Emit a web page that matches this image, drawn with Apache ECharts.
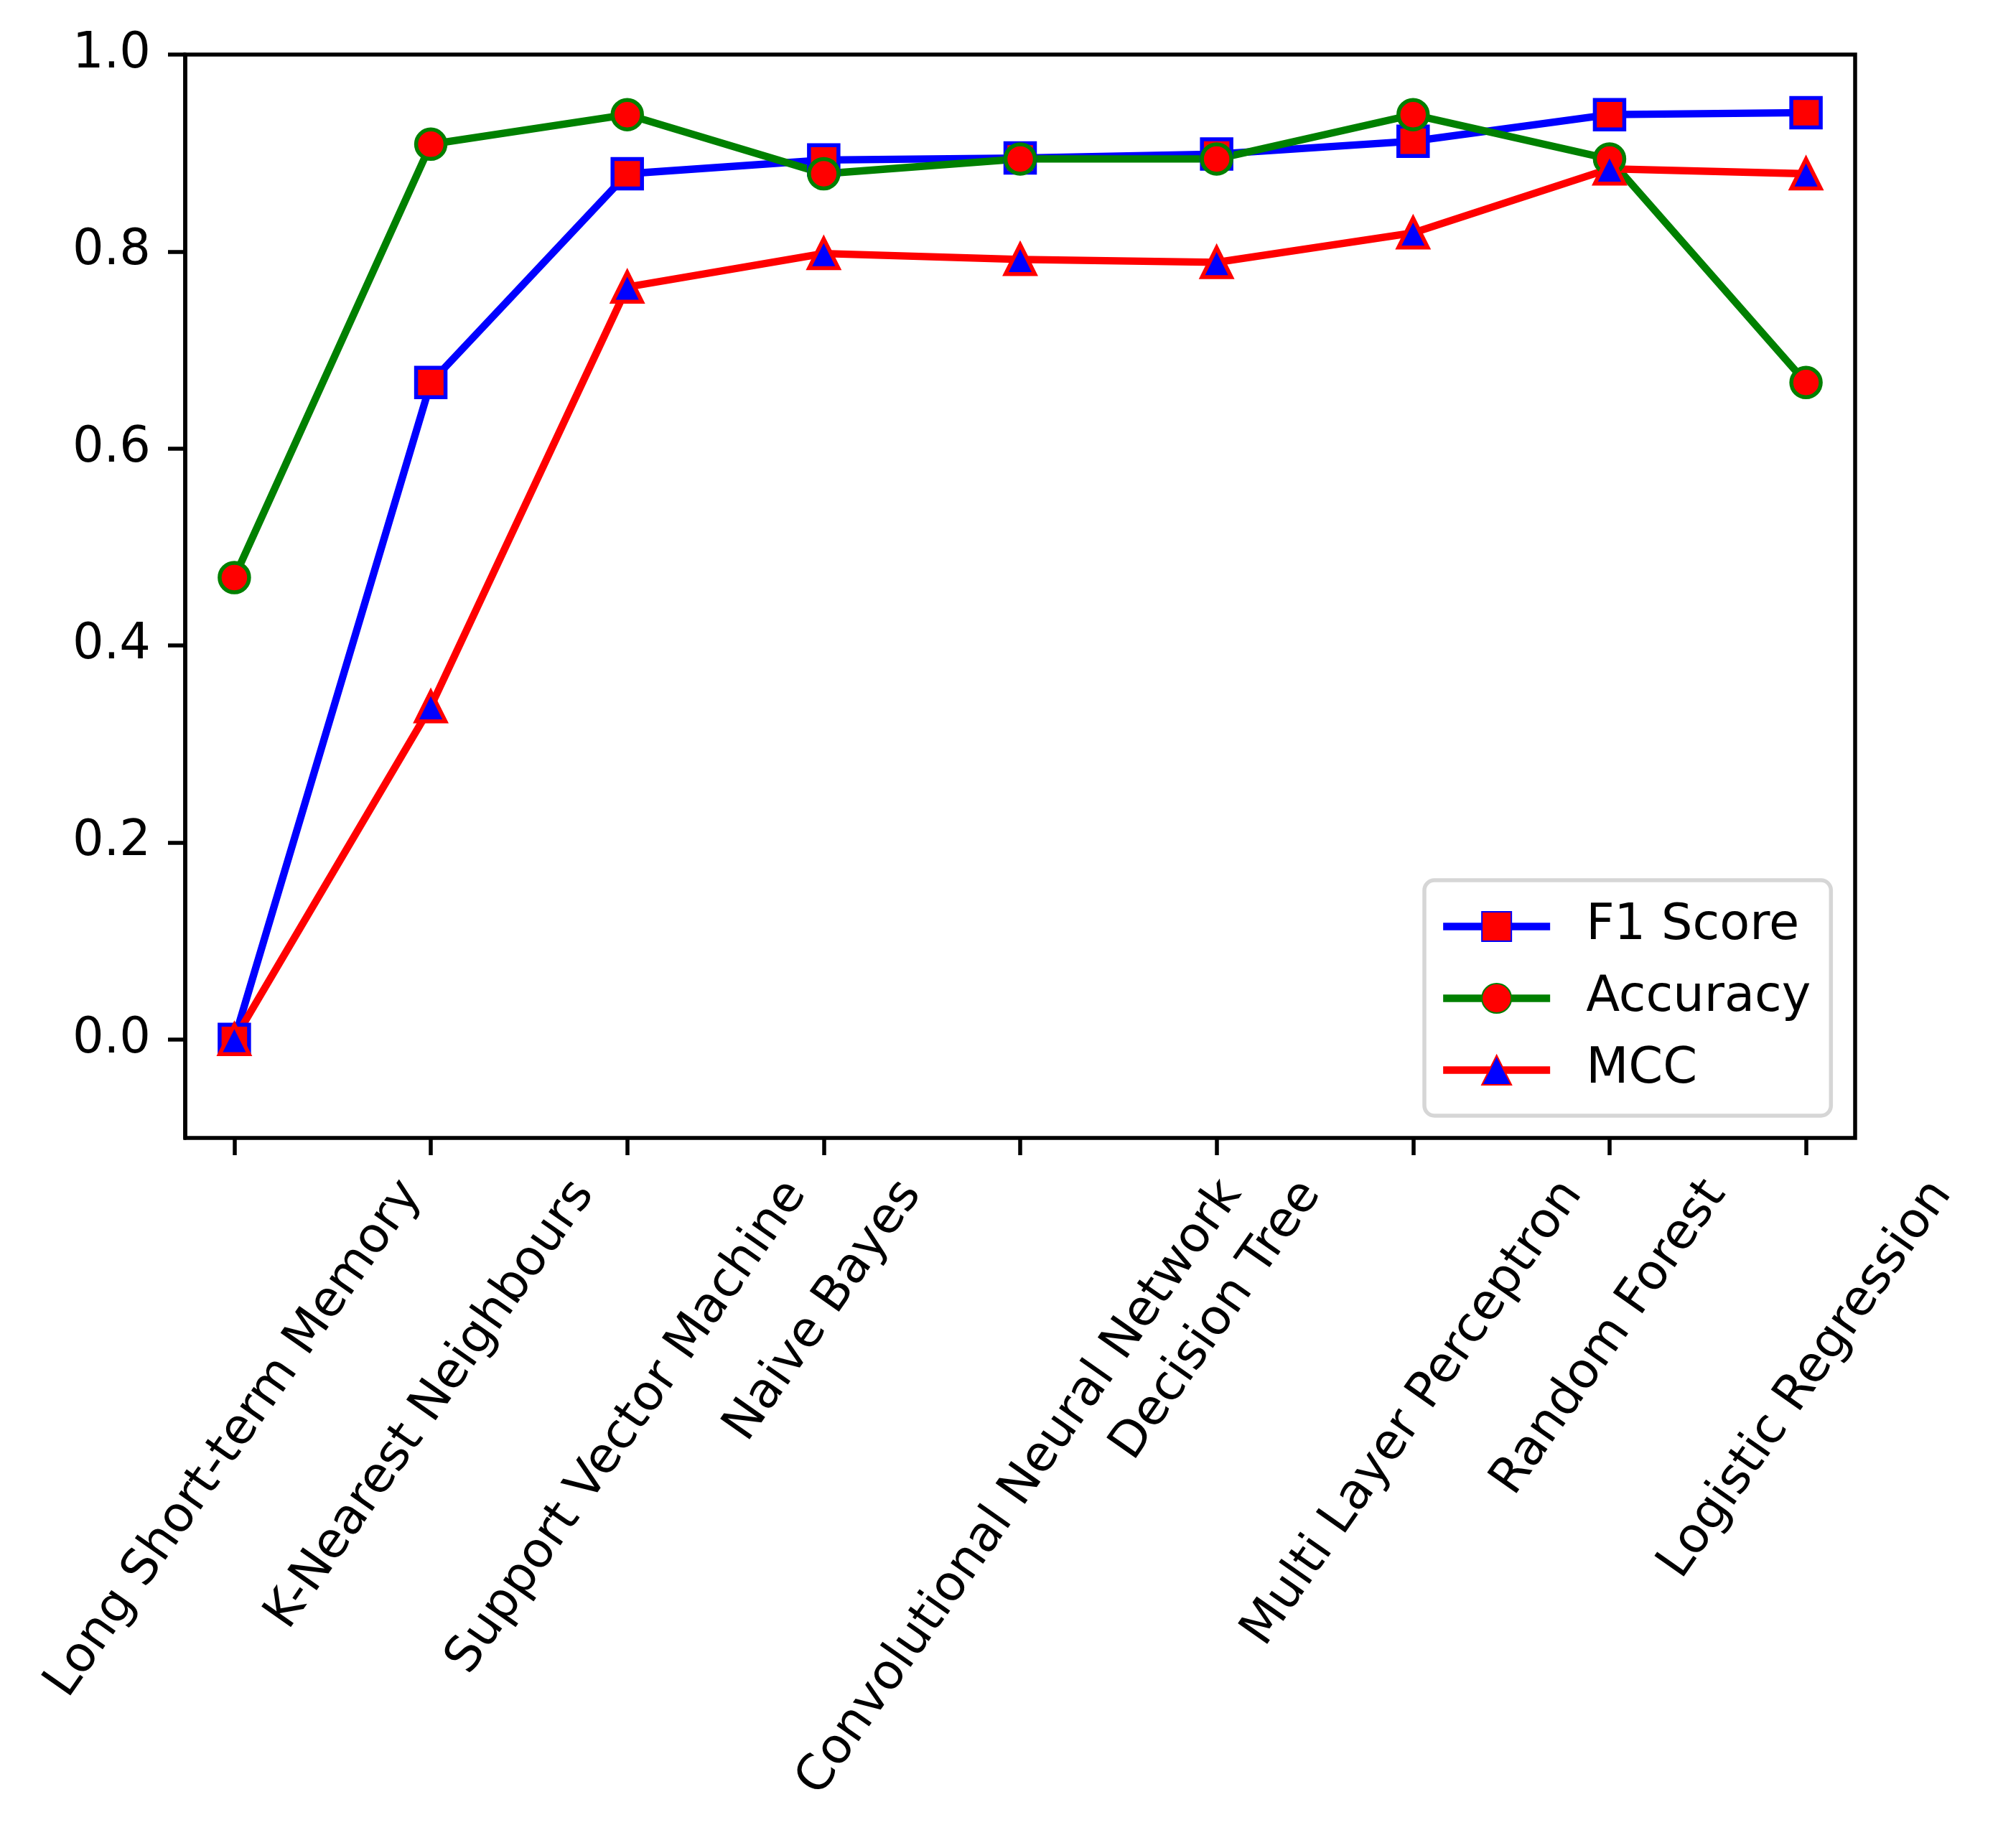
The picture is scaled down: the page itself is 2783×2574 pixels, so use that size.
<!DOCTYPE html>
<html>
<head>
<meta charset="utf-8">
<script src="https://cdn.jsdelivr.net/npm/echarts@6/dist/echarts.min.js"></script>
<style>
  html, body { margin: 0; padding: 0; background: #fff; }
  #chart { width: 2783px; height: 2574px; }
</style>
</head>
<body>
<div id="chart"></div>
<script>
const categories = [
  'Long Short-term Memory',
  'K-Nearest Neighbours',
  'Support Vector Machine',
  'Naive Bayes',
  'Convolutional Neural Network',
  'Decision Tree',
  'Multi Layer Perceptron',
  'Random Forest',
  'Logistic Regression'
];
const f1Score  = [0.0,   0.667, 0.879, 0.893, 0.895, 0.899, 0.912, 0.939, 0.941];
const accuracy = [0.469, 0.909, 0.939, 0.879, 0.894, 0.894, 0.939, 0.894, 0.667];
const mcc      = [0.0,   0.338, 0.764, 0.798, 0.792, 0.789, 0.819, 0.884, 0.879];
const yTicks = [0, 0.2, 0.4, 0.6, 0.8, 1.0];

const FONT = '"DejaVu Sans", sans-serif';
const FS = 68.6;       // 10pt at this dpi
const LW = 10.3;       // line width
const EW = 5.5;        // marker edge / spine width
const MS = 41;         // marker size
const ROT = 55;

// axes frame (x runs -0.25 .. 8.25 like matplotlib's margins)
const FRAME = { left: 258, right: 199, top: 76, bottom: 989 };
const unit = (2783 - FRAME.left - FRAME.right) / 8.5;
const DATA_GRID = {
  left: FRAME.left + 0.25 * unit,
  right: FRAME.right + 0.25 * unit,
  top: FRAME.top,
  bottom: FRAME.bottom
};

// matplotlib centres each rotated label box under its tick;
// echarts rotates around the anchor, so shift each label down by half its box height
const ctx = document.createElement('canvas').getContext('2d');
ctx.font = FS + 'px ' + FONT;
const rad = ROT * Math.PI / 180;
const lineH = FS * 0.97;
const rich = {};
categories.forEach((name, i) => {
  const w = ctx.measureText(name).width;
  const d = (w * Math.sin(rad) + lineH * Math.cos(rad)) / 2;
  rich['c' + i] = {
    fontSize: FS,
    fontFamily: FONT,
    color: '#000',
    lineHeight: lineH,
    padding: [2 * d * Math.cos(rad), 2 * d * Math.sin(rad), 0, 0]
  };
});

function lineSeries(name, values, symbol, lineColor, fill) {
  return {
    name: name,
    type: 'line',
    xAxisIndex: 1,
    yAxisIndex: 1,
    data: values,
    symbol: symbol,
    symbolSize: MS,
    showAllSymbol: true,
    lineStyle: { color: lineColor, width: LW, join: 'round' },
    itemStyle: { color: fill, borderColor: lineColor, borderWidth: EW },
    emphasis: { disabled: true }
  };
}

const chart = echarts.init(document.getElementById('chart'));
chart.setOption({
  animation: false,
  backgroundColor: '#fff',
  grid: [
    Object.assign({ show: true, borderColor: '#000', borderWidth: EW, outerBoundsMode: 'none' }, FRAME),
    Object.assign({ outerBoundsMode: 'none' }, DATA_GRID)
  ],
  legend: {
    orient: 'vertical',
    left: 1984, top: 1226,
    padding: [30, 28, 29, 21],
    itemWidth: 149,
    itemHeight: MS / 0.8,
    itemGap: 31,
    selectedMode: false,
    backgroundColor: '#fff',
    borderColor: '#d6d6d6',
    borderWidth: EW,
    borderRadius: 14,
    lineStyle: { width: LW },
    textStyle: {
      fontSize: FS, fontFamily: FONT, color: '#000',
      padding: [0, 0, 0, 45]
    },
    data: ['F1 Score', 'Accuracy', 'MCC']
  },
  xAxis: [
    { gridIndex: 0, type: 'value', min: 0, max: 1, show: false },
    {
      gridIndex: 1,
      type: 'category',
      data: categories,
      boundaryGap: false,
      position: 'bottom',
      axisLine: { show: false, onZero: false },
      axisTick: { show: true, interval: 0, length: 24, lineStyle: { color: '#000', width: EW } },
      axisLabel: {
        interval: 0,
        rotate: ROT,
        align: 'center',
        verticalAlign: 'middle',
        margin: 48,
        formatter: (v, i) => '{c' + i + '|' + v + '}',
        rich: rich
      },
      splitLine: { show: false }
    }
  ],
  yAxis: [
    {
      gridIndex: 0,
      type: 'value',
      min: -0.1,
      max: 1.0,
      splitLine: { show: false },
      axisLine: { show: true, onZero: false, lineStyle: { color: '#000', width: EW } },
      axisTick: { show: true, customValues: yTicks, length: 24, lineStyle: { color: '#000', width: EW } },
      axisLabel: {
        customValues: yTicks,
        margin: 48,
        fontSize: FS,
        fontFamily: FONT,
        color: '#000',
        formatter: v => v.toFixed(1)
      }
    },
    { gridIndex: 1, type: 'value', min: -0.1, max: 1.0, show: false }
  ],
  series: [
    lineSeries('F1 Score', f1Score, 'rect', '#0000ff', '#ff0000'),
    lineSeries('Accuracy', accuracy, 'circle', '#008000', '#ff0000'),
    lineSeries('MCC', mcc, 'triangle', '#ff0000', '#0000ff')
  ]
});
</script>
</body>
</html>
